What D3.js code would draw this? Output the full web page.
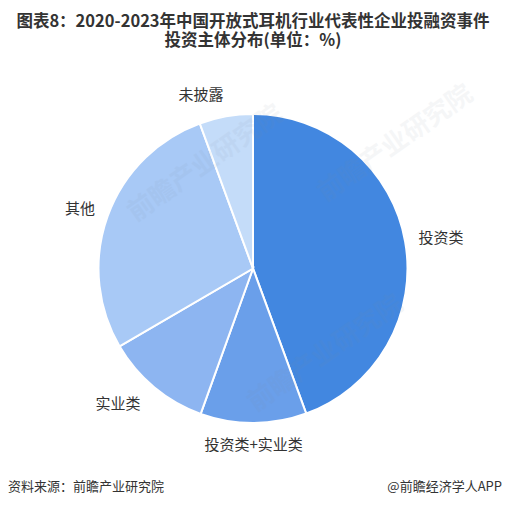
<!DOCTYPE html>
<html>
<head>
<meta charset="utf-8">
<script src="https://cdn.jsdelivr.net/npm/d3@7"></script>
<style>
	html, body { margin: 0; padding: 0; background: #fff; }
	svg { display: block; font-family: "Noto Sans CJK SC", "Liberation Sans", sans-serif; }
</style>
</head>
<body>
<div id="chart"></div>
<script>

var categories = ["投资类", "投资类+实业类", "实业类", "其他", "未披露"];
var values = [44.4, 11.1, 11.1, 27.8, 5.6];
var colors = ["#4287E0", "#6A9FEA", "#8DB5F1", "#A8C9F6", "#C4DCF9"];

var titleLines = ["图表8：2020-2023年中国开放式耳机行业代表性企业投融资事件", "投资主体分布(单位：%)"];
var sourceText = "资料来源：前瞻产业研究院";
var brandText = "@前瞻经济学人APP";
var watermark = "前瞻产业研究院";


var width = 506, height = 516,
	cx = 253, cy = 268.5, radius = 154.5, labelRadius = 168;

var svg = d3.select("#chart")
	.append("svg")
		.attr("width", width)
		.attr("height", height);

svg.append("rect")
	.attr("width", width)
	.attr("height", height)
	.attr("fill", "#fff");

svg.append("g")
	.selectAll("text")
	.data(titleLines)
	.enter().append("text")
		.attr("x", width / 2)
		.attr("y", function(d, i) { return 27 + i * 19; })
		.attr("text-anchor", "middle")
		.attr("font-size", 16.5)
		.attr("font-weight", "bold")
		.attr("fill", "#333")
		.text(function(d) { return d; });


var pie = d3.pie().sort(null).value(function(d) { return d; });
var arc = d3.arc().innerRadius(0).outerRadius(radius);
var arcs = pie(values);

var g = svg.append("g")
	.attr("transform", "translate(" + cx + "," + cy + ")");

g.selectAll("path")
	.data(arcs)
	.enter().append("path")
		.attr("d", arc)
		.attr("fill", function(d, i) { return colors[i]; })
		.attr("stroke", "#fff")
		.attr("stroke-width", 2);

g.selectAll("text")
	.data(arcs)
	.enter().append("text")
		.attr("x", function(d) {
			var a = (d.startAngle + d.endAngle) / 2;
			return (labelRadius + 10 * Math.abs(Math.cos(a)) * (Math.cos(a) < 0 ? 1 : 0)) * Math.sin(a);
		})
		.attr("y", function(d) {
			var a = (d.startAngle + d.endAngle) / 2;
			return -labelRadius * Math.cos(a) - Math.cos(a) * 8;
		})
		.attr("dy", "0.35em")
		.attr("text-anchor", function(d) {
			var s = Math.sin((d.startAngle + d.endAngle) / 2);
			return s > 0.1 ? "start" : (s < -0.1 ? "end" : "middle");
		})
		.attr("font-size", 15)
		.attr("fill", "#333")
		.text(function(d, i) { return categories[i]; });

// faint watermarks on top
var marks = [[210, 170], [330, 360], [400, 150]];
svg.append("g")
	.selectAll("text")
	.data(marks)
	.enter().append("text")
		.attr("transform", function(d) { return "translate(" + d[0] + "," + d[1] + ") rotate(-35)"; })
		.attr("text-anchor", "middle")
		.attr("font-size", 26)
		.attr("font-weight", "bold")
		.attr("fill", "#7d8a9c")
		.attr("opacity", 0.07)
		.text(watermark);


svg.append("text")
	.attr("x", 8)
	.attr("y", 491)
	.attr("font-size", 13)
	.attr("fill", "#333")
	.text(sourceText);

svg.append("text")
	.attr("x", 502)
	.attr("y", 491)
	.attr("text-anchor", "end")
	.attr("font-size", 13)
	.attr("fill", "#333")
	.text(brandText);

</script>
</body>
</html>
